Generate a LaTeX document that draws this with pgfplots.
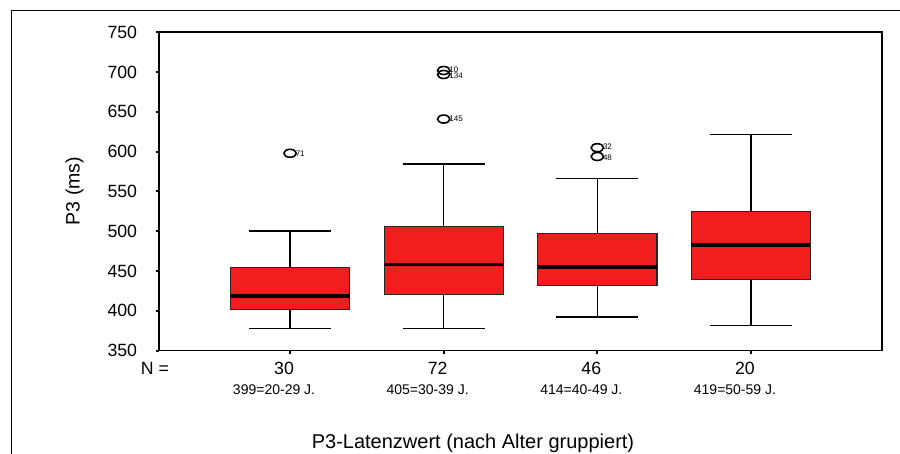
\documentclass[border=0pt]{standalone}
\usepackage{fontspec}
\setmainfont{Liberation Sans}
\usepackage{pgfplots}
\pgfplotsset{compat=1.18}
\usepgfplotslibrary{statistics}
\definecolor{boxred}{RGB}{240,30,30}
\newcommand{\tfont}{\fontsize{17.7}{20}\selectfont}
\newcommand{\cfont}{\fontsize{14}{16}\selectfont}
\newcommand{\ofont}{\fontsize{8}{9}\selectfont}
\begin{document}
\begin{tikzpicture}
\useasboundingbox (0,0) rectangle (900pt,454pt);
\draw[line width=1pt] (11.5pt,-5pt) -- (11.5pt,443.5pt) -- (905pt,443.5pt);
\begin{axis}[
  at={(158.7pt,103.3pt)}, anchor=south west, scale only axis,
  width=723pt, height=318.4pt,
  xmin=0.145, xmax=4.851, ymin=350, ymax=750,
  boxplot/draw direction=y,
  axis line style={line width=1.6pt},
  ytick={350,400,450,500,550,600,650,700,750},
  xtick={1,2,3,4}, xticklabel=\empty,
  ytick pos=left, xtick pos=bottom,
  tick align=outside, major tick length=3pt,
  tick style={line width=2pt, black},
  /pgf/number format/assume math mode=true,
  yticklabel style={font=\tfont, anchor=east, inner sep=0pt, xshift=-18.4pt},
  clip=false,
]
\addplot[boxplot prepared={draw position=1, lower whisker=377.6, lower quartile=401.4, median=418.5, upper quartile=454.5, upper whisker=500.5, box extend=0.775, whisker extend=0.534, every box/.style={draw=black!85, line width=1.3pt, fill=boxred}, every whisker/.style={black, line width=1.3pt}, every median/.style={black, line width=3.5pt}}] coordinates {};
\addplot[boxplot prepared={draw position=2, lower whisker=377.6, lower quartile=420.4, median=458.2, upper quartile=506.2, upper whisker=584.5, box extend=0.775, whisker extend=0.534, every box/.style={draw=black!85, line width=1.3pt, fill=boxred}, every whisker/.style={black, line width=1.3pt}, every median/.style={black, line width=3.5pt}}] coordinates {};
\addplot[boxplot prepared={draw position=3, lower whisker=392.2, lower quartile=432.3, median=455.3, upper quartile=497.1, upper whisker=566.5, box extend=0.775, whisker extend=0.534, every box/.style={draw=black!85, line width=1.3pt, fill=boxred}, every whisker/.style={black, line width=1.3pt}, every median/.style={black, line width=3.5pt}}] coordinates {};
\addplot[boxplot prepared={draw position=4, lower whisker=381.7, lower quartile=439.4, median=482.9, upper quartile=525.1, upper whisker=621.6, box extend=0.775, whisker extend=0.534, every box/.style={draw=black!85, line width=1.3pt, fill=boxred}, every whisker/.style={black, line width=1.3pt}, every median/.style={black, line width=3.5pt}}] coordinates {};
\addplot[only marks, mark=o, mark size=4pt, mark options={xscale=1.55, line width=1.6pt, black}]
  coordinates {(1,598) (2,702) (2,697) (2,641) (3,605) (3,594)};
\node[anchor=west, inner sep=0pt, font=\ofont, xshift=5.5pt] at (axis cs:1,598) {71};
\node[anchor=west, inner sep=0pt, font=\ofont, xshift=5.5pt, yshift=1.2pt] at (axis cs:2,702) {10};
\node[anchor=west, inner sep=0pt, font=\ofont, xshift=5.5pt, yshift=-1.2pt] at (axis cs:2,697) {134};
\node[anchor=west, inner sep=0pt, font=\ofont, xshift=5.5pt] at (axis cs:2,641) {145};
\node[anchor=west, inner sep=0pt, font=\ofont, xshift=5.5pt, yshift=1pt] at (axis cs:3,605) {32};
\node[anchor=west, inner sep=0pt, font=\ofont, xshift=5.5pt, yshift=-1pt] at (axis cs:3,594) {48};
\node[anchor=base, font=\tfont, xshift=-6pt, yshift=-24.3pt] at (axis cs:1,350) {30};
\node[anchor=base, font=\tfont, xshift=-6pt, yshift=-24.3pt] at (axis cs:2,350) {72};
\node[anchor=base, font=\tfont, xshift=-6pt, yshift=-24.3pt] at (axis cs:3,350) {46};
\node[anchor=base, font=\tfont, xshift=-6pt, yshift=-24.3pt] at (axis cs:4,350) {20};
\node[anchor=base, font=\cfont, xshift=-16pt, yshift=-43.6pt] at (axis cs:1,350) {399=20-29 J.};
\node[anchor=base, font=\cfont, xshift=-16pt, yshift=-43.6pt] at (axis cs:2,350) {405=30-39 J.};
\node[anchor=base, font=\cfont, xshift=-16pt, yshift=-43.6pt] at (axis cs:3,350) {414=40-49 J.};
\node[anchor=base, font=\cfont, xshift=-16pt, yshift=-43.6pt] at (axis cs:4,350) {419=50-59 J.};
\end{axis}
\node[anchor=base, font=\tfont] at (155pt,79pt) {N =};
\node[anchor=base, font=\fontsize{20}{24}\selectfont] at (473pt,5.7pt) {P3-Latenzwert (nach Alter gruppiert)};
\node[anchor=base, rotate=90, font=\fontsize{19.5}{24}\selectfont] at (79.5pt,263pt) {P3 (ms)};
\end{tikzpicture}
\end{document}
